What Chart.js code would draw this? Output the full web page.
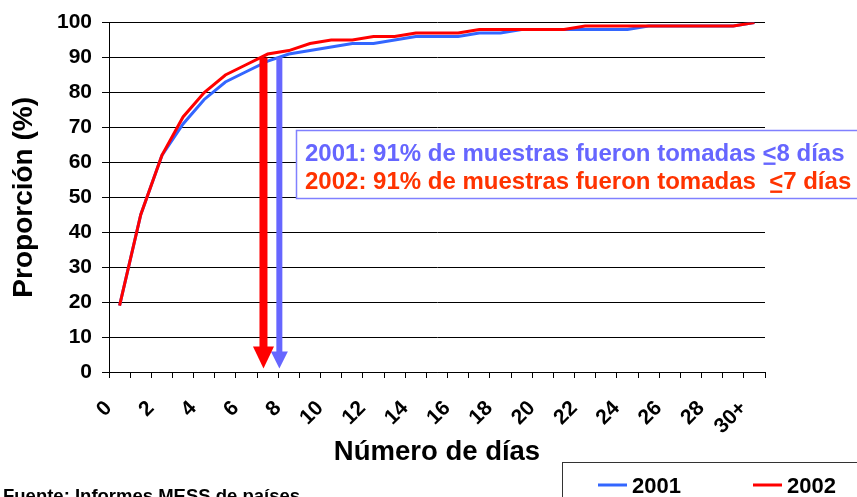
<!DOCTYPE html>
<html>
<head>
<meta charset="utf-8">
<script src="https://cdn.jsdelivr.net/npm/chart.js@4/dist/chart.umd.min.js"></script>
<style>
  html, body { margin: 0; padding: 0; background: #fff; }
  #wrap { width: 857px; height: 497px; position: relative; }
</style>
</head>
<body>
<div id="wrap"><canvas id="chart"></canvas></div>
<script>
// days since sampling (category axis)
const days = ["0","1","2","3","4","5","6","7","8","9","10","11","12","13","14","15",
              "16","17","18","19","20","21","22","23","24","25","26","27","28","29","30+"];

// cumulative proportion of samples (%)
const prop2001 = [19, 45, 62, 71, 78, 83, 86, 89, 91, 92, 93, 94, 94, 95, 96, 96,
                  96, 97, 97, 98, 98, 98, 98, 98, 98, 99, 99, 99, 99, 99, 100];
const prop2002 = [19, 45, 62, 73, 80, 85, 88, 91, 92, 94, 95, 95, 96, 96, 97, 97,
                  97, 98, 98, 98, 98, 98, 99, 99, 99, 99, 99, 99, 99, 99, 100];

const seriesLabels = ["2001", "2002"];
const seriesColors = ["#3366ff", "#ff0000"];
const arrowColors = ["#6666ff", "#ff0000"];

// where the arrows drop (x in day units, y top in %)
const arrowX = [7.55, 6.8];
const arrowTop = 90;

const notes = [
  { pre: "2001: 91% de muestras fueron tomadas ", le: "<", post: "8 días", color: "#6666ff" },
  { pre: "2002: 91% de muestras fueron tomadas  ", le: "<", post: "7 días", color: "#ff3300" }
];

const FONT = "Liberation Sans, Arial, sans-serif";

const extras = {
  id: "extras",
  afterDatasetsDraw(chart) {
    const ctx = chart.ctx;
    const xs = chart.scales.x, ys = chart.scales.y;
    ctx.save();

    // arrows
    arrowX.forEach(function (v, i) {
      const x = xs.getPixelForValue(v);
      const y0 = ys.getPixelForValue(arrowTop);
      const tip = ys.getPixelForValue(1);
      const shaft = i === 1 ? 8 : 6;
      const headW = i === 1 ? 21 : 17;
      const headH = i === 1 ? 22 : 17;
      ctx.fillStyle = arrowColors[i];
      ctx.fillRect(x - shaft / 2, y0, shaft, tip - headH - y0 + 1);
      ctx.beginPath();
      ctx.moveTo(x - headW / 2, tip - headH);
      ctx.lineTo(x + headW / 2, tip - headH);
      ctx.lineTo(x, tip);
      ctx.closePath();
      ctx.fill();
    });

    // note box
    ctx.fillStyle = "#fff";
    ctx.fillRect(296, 130, 600, 68);
    ctx.strokeStyle = "#8080ff";
    ctx.lineWidth = 1.5;
    ctx.strokeRect(296.5, 130.5, 600, 68);

    ctx.font = "bold 24px " + FONT;
    ctx.textBaseline = "alphabetic";
    ctx.textAlign = "left";
    notes.forEach(function (n, i) {
      const y = 161 + i * 28;
      let x = 305;
      ctx.fillStyle = n.color;
      ctx.fillText(n.pre, x, y);
      x += ctx.measureText(n.pre).width;
      ctx.fillText(n.le, x, y);
      const w = ctx.measureText(n.le).width;
      ctx.fillRect(x + 1, y + 1.5, w - 2, 2.4);
      x += w;
      ctx.fillText(n.post, x, y);
    });

    // legend box
    ctx.strokeStyle = "#333";
    ctx.lineWidth = 1;
    ctx.strokeRect(562.5, 462.5, 400, 60);
    ctx.font = "bold 22px " + FONT;
    const legX = [598, 753];
    chart.data.datasets.forEach(function (ds, i) {
      ctx.strokeStyle = ds.borderColor;
      ctx.lineWidth = 3;
      ctx.beginPath();
      ctx.moveTo(legX[i], 485);
      ctx.lineTo(legX[i] + 29, 485);
      ctx.stroke();
      ctx.fillStyle = "#000";
      ctx.fillText(ds.label, legX[i] + 34, 493);
    });

    // source
    ctx.font = "bold 18.5px " + FONT;
    ctx.fillStyle = "#000";
    ctx.fillText("Fuente: Informes MESS de países", 3, 502);
    ctx.restore();
  }
};

new Chart(document.getElementById("chart"), {
  type: "line",
  data: {
    labels: days,
    datasets: [
      { label: seriesLabels[0], data: prop2001, borderColor: seriesColors[0], order: 2 },
      { label: seriesLabels[1], data: prop2002, borderColor: seriesColors[1], order: 1 }
    ]
  },
  options: {
    responsive: true,
    maintainAspectRatio: false,
    animation: false,
    devicePixelRatio: 1,
    layout: { padding: { left: 0, top: 22, right: 92, bottom: 0 } },
    elements: {
      line: { borderWidth: 3, tension: 0, fill: false },
      point: { radius: 0, hoverRadius: 0 }
    },
    plugins: {
      legend: { display: false },
      tooltip: { enabled: false }
    },
    scales: {
      x: {
        offset: true,
        grid: { offset: true, drawOnChartArea: false, tickLength: 6, color: "#000", lineWidth: 1 },
        border: { color: "#000", width: 1 },
        ticks: {
          autoSkip: false,
          minRotation: 45,
          maxRotation: 45,
          labelOffset: -11,
          padding: 18,
          color: "#000",
          font: { family: FONT, size: 21, weight: "bold" },
          callback: function (v, i) { return i % 2 === 0 ? days[i] : ""; }
        },
        title: {
          display: true,
          text: "Número de días",
          color: "#000",
          font: { family: FONT, size: 27.5, weight: "bold" },
          padding: { top: 0, bottom: 28 }
        },
        afterFit: function (s) { s.height = 125; }
      },
      y: {
        min: 0,
        max: 100,
        grid: { color: "#000", lineWidth: 1, tickLength: 7 },
        border: { color: "#000", width: 1 },
        ticks: {
          stepSize: 10,
          padding: 10,
          color: "#000",
          font: { family: FONT, size: 21, weight: "bold" }
        },
        title: {
          display: true,
          text: "Proporción (%)",
          color: "#000",
          font: { family: FONT, size: 28, weight: "bold" },
          padding: { top: 7, bottom: 0 }
        },
        afterFit: function (s) { s.width = 109; }
      }
    }
  },
  plugins: [extras]
});
</script>
</body>
</html>
